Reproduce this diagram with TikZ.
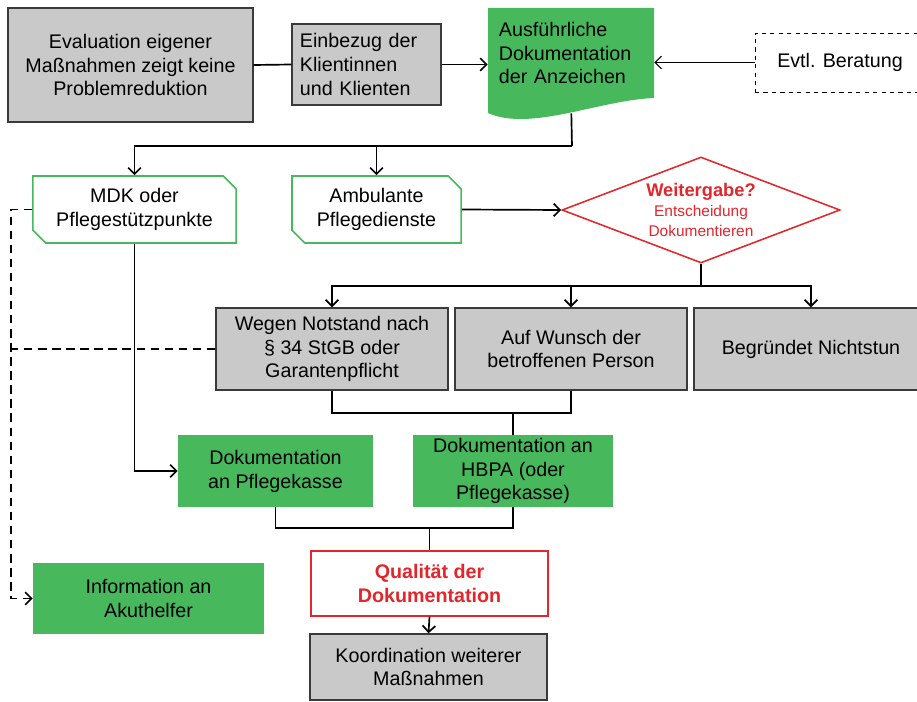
\documentclass[tikz,border=0pt]{standalone}
\usepackage{fontspec}
\setmainfont{Liberation Sans}
\usetikzlibrary{positioning,calc,arrows.meta,shapes.geometric,shapes.misc}

\definecolor{boxgray}{HTML}{C9C9C9}
\definecolor{docgreen}{HTML}{47B85C}
\definecolor{alertred}{HTML}{E2262B}
\definecolor{edgegray}{HTML}{3A3A3A}

\tikzset{every node/.style={font=\fontsize{14}{17}\selectfont}}
\tikzset{graybox/.style={draw=edgegray,line width=1pt,fill=boxgray,align=center,inner sep=0pt}}
\tikzset{greenbox/.style={fill=docgreen,align=center,inner sep=0pt}}
\tikzset{chambox/.style={chamfered rectangle,chamfered rectangle corners={north east,south west},chamfered rectangle sep=0.16cm,draw=docgreen,line width=1.1pt,fill=white,align=center,inner sep=0pt}}
\tikzset{decision/.style={diamond,aspect=2.6,draw=alertred,line width=1.1pt,text=alertred,align=center,inner sep=0pt}}
\tikzset{link/.style={line width=1.2pt}}
\tikzset{arrow/.style={link,-{Straight Barb[length=4.5pt,width=9pt]}}}
\tikzset{dashlink/.style={line width=1.2pt,dash pattern=on 6pt off 4pt}}

\begin{document}
\begin{tikzpicture}[x=0.025cm,y=-0.025cm]

	\useasboundingbox (0,0) rectangle (917,702);
	\clip (0,0) rectangle (917,702);

	%% Top row
	\node[graybox,minimum width=6.125cm,minimum height=2.85cm] (eval) at (130.5,65)
		{Evaluation eigener\\Maßnahmen zeigt keine\\Problemreduktion};
	\node[graybox,minimum width=3.725cm,minimum height=2.025cm,text width=3.325cm,align=left,inner xsep=0.2cm] (einbezug) at (366.5,64.5)
		{Einbezug der\\Klientinnen\\und Klienten};
	% document shape behind the text
	\fill[docgreen] (488,8) -- (654,8) -- (654,98) .. controls (600,100) and (530,132) .. (488,113) -- cycle;
	\node[minimum width=4.15cm,minimum height=2.25cm,text width=3.6cm,align=left,inner xsep=0.275cm,inner ysep=0pt] (doku) at (571,53)
		{Ausführliche\\Dokumentation\\der Anzeichen};
	\node[draw,dashed,line width=0.6pt,minimum width=4.25cm,minimum height=1.475cm,inner sep=0pt] (beratung) at (840,62.5)
		{Evtl. Beratung};

	\draw[link] (eval.east) -- (einbezug.west);
	\draw[arrow] (einbezug.east) -- (einbezug.east -| doku.west);
	\draw[arrow,line width=0.8pt] (beratung.west) -- (beratung.west -| doku.east);

	%% Second row
	\node[chambox,minimum width=5.075cm,minimum height=1.675cm] (mdk) at (134.5,209.5)
		{MDK oder\\Pflegestützpunkte};
	\node[chambox,minimum width=4.225cm,minimum height=1.675cm] (ambulant) at (376.5,209.5)
		{Ambulante\\Pflegedienste};
	\node[decision,minimum width=6.95cm,minimum height=2.65cm,font=\fontsize{11}{14}\selectfont] (weiter) at (701,210)
		{{\bfseries\fontsize{13}{15}\selectfont Weitergabe?}\\Entscheidung\\Dokumentieren};

	\coordinate (split1) at (572,146);
	\draw[link,shorten <=0.38cm] (doku.south) -- (split1);
	\draw[arrow] (split1) -| (mdk.north);
	\draw[arrow] (split1) -| (ambulant.north);
	\draw[arrow] (ambulant.east) -- (weiter.west);

	%% Third row
	\node[graybox,minimum width=5.8cm,minimum height=2.05cm] (notstand) at (332,349)
		{Wegen Notstand nach\\§ 34 StGB oder\\Garantenpflicht};
	\node[graybox,minimum width=5.8cm,minimum height=2.05cm] (wunsch) at (571,349)
		{Auf Wunsch der\\betroffenen Person};
	\node[graybox,minimum width=5.85cm,minimum height=2.05cm] (nichts) at (811,349)
		{Begründet Nichtstun};

	\coordinate (split2) at (701,286);
	\draw[link] (weiter.south) -- (split2);
	\draw[arrow] (split2) -| (notstand.north);
	\draw[arrow] (split2) -| (wunsch.north);
	\draw[arrow] (split2) -| (nichts.north);

	%% Documentation
	\node[greenbox,minimum width=4.875cm,minimum height=1.8cm] (kasse) at (275.5,471)
		{Dokumentation\\an Pflegekasse};
	\node[greenbox,minimum width=5cm,minimum height=1.8cm] (hbpa) at (513,471)
		{Dokumentation an\\HBPA (oder\\Pflegekasse)};

	\coordinate (merge1) at (513,413);
	\draw[link] (notstand.south) |- (merge1) -| (wunsch.south);
	\draw[link] (merge1) -- (hbpa.north);
	\draw[arrow] (mdk.south) |- (kasse.west);

	%% Bottom
	\node[greenbox,minimum width=5.775cm,minimum height=1.775cm] (akut) at (148.5,598.5)
		{Information an\\Akuthelfer};
	\node[draw=alertred,line width=1.1pt,fill=white,text=alertred,font=\fontsize{14}{17}\selectfont\bfseries,align=center,inner sep=0pt,minimum width=5.925cm,minimum height=1.625cm] (quali) at (429.5,583.5)
		{Qualität der\\Dokumentation};
	\node[graybox,minimum width=5.925cm,minimum height=1.65cm] (koord) at (428.5,667)
		{Koordination weiterer\\Maßnahmen};

	\coordinate (merge2) at (429.5,528);
	\draw[link] (kasse.south) |- (merge2) -| (hbpa.south);
	\draw[link] (merge2) -- (quali.north);
	\draw[arrow] (quali.south) -- (koord.north);

	%% Dashed path to Akuthelfer
	\coordinate (dashjoin) at (12,349);
	\draw[dashlink,-{Straight Barb[length=4.5pt,width=9pt]}] (mdk.west) -- ++(-21,0) |- (akut.west);
	\draw[dashlink] (notstand.west) -- (dashjoin);

\end{tikzpicture}
\end{document}
